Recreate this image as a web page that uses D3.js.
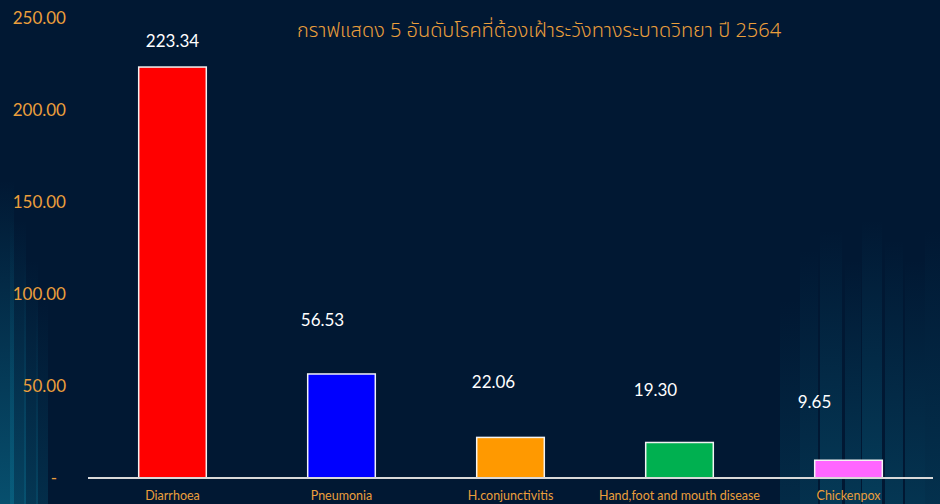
<!DOCTYPE html>
<meta charset="utf-8">
<script src="https://d3js.org/d3.v7.min.js"></script>
<style>
  body { margin: 0; background: #011833; }
</style>
<div id="chart"></div>
<script>

// data
var diseases = ["Diarrhoea", "Pneumonia", "H.conjunctivitis", "Hand,foot and mouth disease", "Chickenpox"];
var rates = [223.34, 56.53, 22.06, 19.30, 9.65];
var barColors = ["#ff0000", "#0000ff", "#ff9900", "#00b050", "#ff66ff"];
var yTicks = [0, 50, 100, 150, 200, 250];
var title = "กราฟแสดง 5 อันดับโรคที่ต้องเฝ้าระวังทางระบาดวิทยา ปี 2564";

// labels were moved by hand in the original, keep their nudges (px)
var labelNudge = [[0, -26], [-19, -54], [-17, -55], [-24, -52], [-34, -58]];

var W = 940, H = 504;
var margin = {top: 18, right: 7, bottom: 26, left: 88};

var svg = d3.select("#chart").append("svg")
  .attr("width", W)
  .attr("height", H);

// background + the soft teal streaks
var defs = svg.append("defs");
var g1 = defs.append("linearGradient").attr("id", "streak").attr("x1", 0).attr("y1", 0).attr("x2", 0).attr("y2", 1);
g1.append("stop").attr("offset", "0%").attr("stop-color", "#0a6a8a").attr("stop-opacity", 0);
g1.append("stop").attr("offset", "100%").attr("stop-color", "#0a6a8a").attr("stop-opacity", 0.75);

svg.append("rect").attr("width", W).attr("height", H).attr("fill", "#011833");

var streaks = [
  [0, 180, 14, 0.9], [10, 220, 16, 0.7], [24, 260, 14, 0.5], [36, 300, 12, 0.35],
  [780, 300, 20, 0.3], [800, 250, 18, 0.4], [820, 230, 22, 0.55], [845, 260, 16, 0.5],
  [862, 220, 20, 0.6], [885, 240, 18, 0.5], [905, 260, 20, 0.45], [925, 230, 15, 0.4]
];
svg.selectAll(".streak").data(streaks).enter().append("rect")
  .attr("class", "streak")
  .attr("x", function(d) { return d[0]; })
  .attr("y", function(d) { return d[1]; })
  .attr("width", function(d) { return d[2]; })
  .attr("height", function(d) { return H - d[1]; })
  .attr("fill", "url(#streak)")
  .attr("opacity", function(d) { return d[3]; });

var x = d3.scaleBand()
  .domain(diseases)
  .range([margin.left, W - margin.right])
  .paddingInner(0.6)
  .paddingOuter(0.3);

var y = d3.scaleLinear()
  .domain([0, 250])
  .range([H - margin.bottom, margin.top]);

// y axis, labels only
var yAxis = svg.append("g")
  .attr("transform", "translate(66,0)")
  .call(d3.axisLeft(y).tickValues(yTicks).tickSize(0)
    .tickFormat(function(d) { return d === 0 ? "-" : d3.format(".2f")(d); }));
yAxis.select(".domain").remove();
yAxis.selectAll("text")
  .attr("x", function(d) { return d === 0 ? -9 : 0; })
  .attr("fill", "#eb9f3c")
  .style("font-family", "Lato, 'Open Sans', sans-serif")
  .style("font-size", "17px");

// bars
svg.selectAll(".bar").data(rates).enter().append("rect")
  .attr("class", "bar")
  .attr("x", function(d, i) { return x(diseases[i]); })
  .attr("y", function(d) { return y(d); })
  .attr("width", x.bandwidth())
  .attr("height", function(d) { return y(0) - y(d); })
  .attr("fill", function(d, i) { return barColors[i]; })
  .attr("stroke", "#f2f2f2")
  .attr("stroke-width", 1.5);

// baseline
svg.append("line")
  .attr("x1", margin.left).attr("x2", W - margin.right)
  .attr("y1", y(0)).attr("y2", y(0))
  .attr("stroke", "#d9d9d9")
  .attr("stroke-width", 2);

// value labels
svg.selectAll(".val").data(rates).enter().append("text")
  .attr("class", "val")
  .attr("x", function(d, i) { return x(diseases[i]) + x.bandwidth() / 2 + labelNudge[i][0]; })
  .attr("y", function(d, i) { return y(d) + labelNudge[i][1]; })
  .attr("dy", "0.35em")
  .attr("text-anchor", "middle")
  .attr("fill", "#ffffff")
  .style("font-family", "Lato, 'Open Sans', sans-serif")
  .style("font-size", "17px")
  .text(function(d) { return d3.format(".2f")(d); });

// category labels
var xAxis = svg.append("g")
  .attr("transform", "translate(0," + y(0) + ")")
  .call(d3.axisBottom(x).tickSize(0).tickPadding(13));
xAxis.select(".domain").remove();
xAxis.selectAll("text")
  .attr("fill", "#eb9f3c")
  .style("font-family", "Lato, 'Open Sans', sans-serif")
  .style("font-size", "12.5px");

// title
svg.append("text")
  .attr("x", 539)
  .attr("y", 30)
  .attr("dy", "0.35em")
  .attr("text-anchor", "middle")
  .attr("fill", "#eb9f3c")
  .style("font-family", "'Noto Sans', 'Noto Sans Thai', 'DejaVu Sans', sans-serif")
  .style("font-size", "20px")
  .style("font-weight", "300")
  .text(title);

</script>
